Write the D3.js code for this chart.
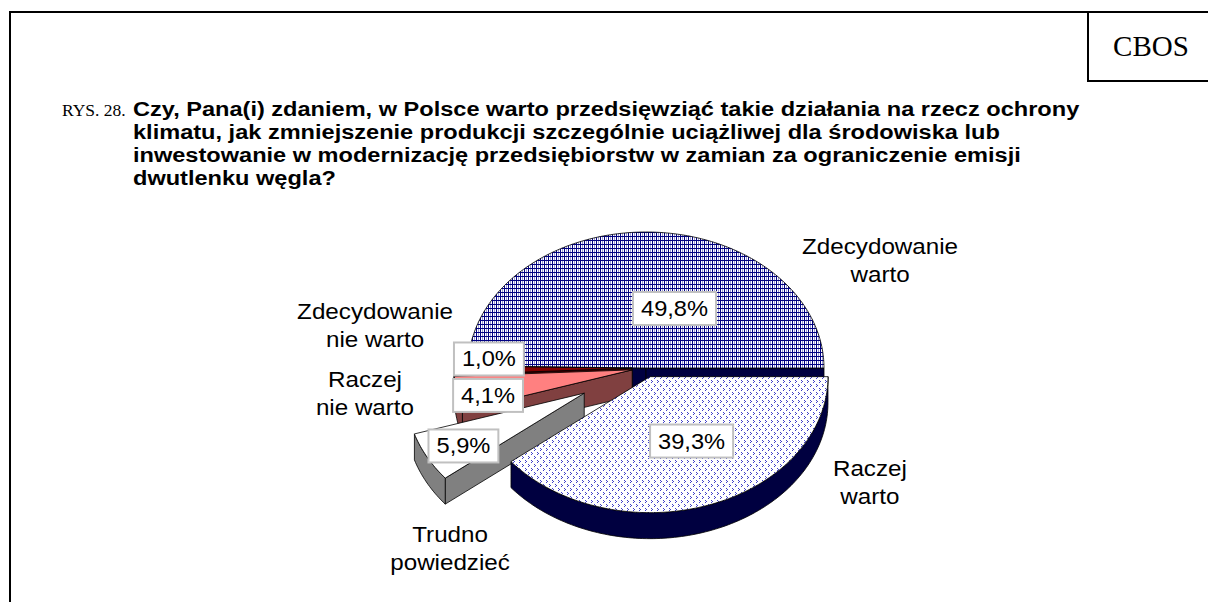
<!DOCTYPE html>
<html>
<head>
<meta charset="utf-8">
<script src="https://cdn.jsdelivr.net/npm/d3@7"></script>
<style>
body { margin: 0; background: #fff; }
svg { display: block; }
</style>
</head>
<body>
<svg width="1208" height="602"></svg>
<script>
// ---- data ----
const categories = ["Zdecydowanie warto", "Raczej warto", "Trudno powiedzieć", "Raczej nie warto", "Zdecydowanie nie warto"];
const categoryLines = [["Zdecydowanie", "warto"], ["Raczej", "warto"], ["Trudno", "powiedzieć"], ["Raczej", "nie warto"], ["Zdecydowanie", "nie warto"]];
const values = [49.8, 39.3, 5.9, 4.1, 1.0];
const valueLabels = ["49,8%", "39,3%", "5,9%", "4,1%", "1,0%"];
const figureNo = "RYS. 28.";
const titleLines = [
    "Czy, Pana(i) zdaniem, w Polsce warto przedsięwziąć takie działania na rzecz ochrony",
    "klimatu, jak zmniejszenie produkcji szczególnie uciążliwej dla środowiska lub",
    "inwestowanie w modernizację przedsiębiorstw w zamian za ograniczenie emisji",
    "dwutlenku węgla?"
];
const sourceName = "CBOS";

// ---- look ----
const topFill = ["url(#hatch)", "url(#dots)", "#ffffff", "#ff8080", "#800000"];
const sideFill = ["#000040", "#000040", "#808080", "#804040", "#400000"];
const explode = [0, 12, 70, 14, 14];
// label anchors: [angle deg, radius in ellipse units] from pie centre
const pctPos = [[-69.9, 0.466], [64.5, 0.595], [150.8, 1.175], [167.2, 0.91], [184.3, 0.885]];
const catPos = [[-32.5, 1.559], [32.3, 1.488], [130.7, 1.688], [174.9, 1.585], [193.3, 1.564]];

let svg = d3.select("svg"),
    width = +svg.attr("width"),
    height = +svg.attr("height");

const sx = 1.1; // source picture is a bit wider than tall
const cx = 646, cy = 368, rx = 178, ry = 136, depth = 26;

// patterns
let defs = svg.append("defs");
let hatch = defs.append("pattern").attr("id", "hatch")
    .attr("patternUnits", "userSpaceOnUse").attr("width", 4).attr("height", 4);
hatch.append("rect").attr("width", 4).attr("height", 4).attr("fill", "#fff");
hatch.append("rect").attr("x", 2).attr("width", 1).attr("height", 4).attr("fill", "#9a9ad6");
hatch.append("rect").attr("x", 0).attr("width", 1).attr("height", 4).attr("fill", "#000080");
hatch.append("rect").attr("y", 0).attr("width", 4).attr("height", 1).attr("fill", "#000080");

let dots = defs.append("pattern").attr("id", "dots")
    .attr("patternUnits", "userSpaceOnUse").attr("width", 6).attr("height", 8);
dots.append("rect").attr("width", 6).attr("height", 8).attr("fill", "#fff");
[[0, 0], [1, 1], [0, 2], [3, 4], [4, 5], [3, 6]].forEach(p => {
    dots.append("rect").attr("x", p[0]).attr("y", p[1]).attr("width", 1).attr("height", 1)
        .attr("fill", "#4040c8");
});

// frame
svg.append("line").attr("x1", 9).attr("y1", 12).attr("x2", width).attr("y2", 12)
    .attr("stroke", "#000").attr("stroke-width", 2);
svg.append("line").attr("x1", 10).attr("y1", 11).attr("x2", 10).attr("y2", height)
    .attr("stroke", "#000").attr("stroke-width", 2);
svg.append("line").attr("x1", 1088).attr("y1", 12).attr("x2", 1088).attr("y2", 82)
    .attr("stroke", "#000").attr("stroke-width", 2);
svg.append("line").attr("x1", 1087).attr("y1", 81).attr("x2", width).attr("y2", 81)
    .attr("stroke", "#000").attr("stroke-width", 2);
svg.append("text").attr("x", 1151).attr("y", 56).attr("text-anchor", "middle")
    .attr("font-family", "Liberation Serif, Times New Roman, serif").attr("font-size", 29)
    .text(sourceName);

// title
svg.append("text").attr("x", 62).attr("y", 116)
    .attr("font-family", "Liberation Serif, Times New Roman, serif").attr("font-size", 17.5)
    .text(figureNo);
let title = svg.append("g").attr("transform", "translate(133,0) scale(1.15,1)");
titleLines.forEach((t, i) => {
    title.append("text").attr("x", 0).attr("y", 116 + i * 23)
        .attr("font-family", "Liberation Sans, Arial, sans-serif").attr("font-size", 20.5)
        .attr("font-weight", "bold").text(t);
});

// pie angles: first slice ends at 3 o'clock
let total = d3.sum(values);
let a0 = Math.PI / 2 - 2 * Math.PI * values[0] / total;
let pie = d3.pie().sort(null).startAngle(a0).endAngle(a0 + 2 * Math.PI);
let arcs = pie(values).map((d, i) => {
    let t0 = d.startAngle - Math.PI / 2, t1 = d.endAngle - Math.PI / 2;
    let m = (t0 + t1) / 2;
    return {
        i: i, t0: t0, t1: t1,
        ox: cx + explode[i] * Math.cos(m),
        oy: cy + explode[i] * Math.sin(m) * ry / rx
    };
});

let line = d3.line();
function arcPts(a, s, e, dy) {
    let n = Math.max(2, Math.ceil(Math.abs(e - s) / 0.02));
    return d3.range(n + 1).map(k => {
        let t = s + (e - s) * k / n;
        return [a.ox + rx * Math.cos(t), a.oy + ry * Math.sin(t) + dy];
    });
}

function drawSlice(g, a) {
    let side = sideFill[a.i];
    // radial faces
    if (Math.cos(a.t0) < 0) {
        let p = [a.ox + rx * Math.cos(a.t0), a.oy + ry * Math.sin(a.t0)];
        g.append("path").attr("d", line([[a.ox, a.oy], p, [p[0], p[1] + depth], [a.ox, a.oy + depth]]) + "Z")
            .attr("fill", side).attr("stroke", "#000").attr("stroke-width", 0.8);
    }
    if (Math.cos(a.t1) > 0) {
        let p = [a.ox + rx * Math.cos(a.t1), a.oy + ry * Math.sin(a.t1)];
        g.append("path").attr("d", line([[a.ox, a.oy], p, [p[0], p[1] + depth], [a.ox, a.oy + depth]]) + "Z")
            .attr("fill", side).attr("stroke", "#000").attr("stroke-width", 0.8);
    }
    // outer wall, front half only
    [-2, 0, 2].forEach(k => {
        let s = Math.max(a.t0, k * Math.PI), e = Math.min(a.t1, (k + 1) * Math.PI);
        if (e > s) {
            let pts = arcPts(a, s, e, 0).concat(arcPts(a, s, e, depth).reverse());
            g.append("path").attr("d", line(pts) + "Z")
                .attr("fill", side).attr("stroke", "#000").attr("stroke-width", 0.8);
        }
    });
    // top face
    let topPts = [[a.ox, a.oy]].concat(arcPts(a, a.t0, a.t1, 0));
    g.append("path").attr("d", line(topPts) + "Z")
        .attr("fill", topFill[a.i]).attr("stroke", "#000").attr("stroke-width", 0.8);
}

let pieG = svg.append("g");
[0, 4, 3, 2, 1].forEach(i => drawSlice(pieG.append("g"), arcs[i]));

function polar(p) {
    let t = p[0] * Math.PI / 180;
    return [cx + p[1] * rx * Math.cos(t), cy + p[1] * ry * Math.sin(t)];
}

// value labels in boxes
let boxes = svg.append("g");
values.forEach((v, i) => {
    let c = polar(pctPos[i]);
    let g = boxes.append("g").attr("transform", "translate(" + c[0] + "," + c[1] + ")");
    let r = g.append("rect").attr("fill", "#fff").attr("stroke", "#c0c0c0").attr("stroke-width", 2);
    let t = g.append("text").attr("text-anchor", "middle").attr("y", 7.5)
        .attr("transform", "scale(" + sx + ",1)")
        .attr("font-family", "Liberation Sans, Arial, sans-serif").attr("font-size", 21.5)
        .attr("fill", "#000").text(valueLabels[i]);
    let w = t.node().getComputedTextLength() * sx + 16;
    r.attr("x", -w / 2).attr("y", -16.5).attr("width", w).attr("height", 33);
});

// category labels
categoryLines.forEach((lines, i) => {
    let c = polar(catPos[i]);
    let g = svg.append("g").attr("transform", "translate(" + c[0] + "," + c[1] + ") scale(" + sx + ",1)");
    lines.forEach((s, j) => {
        g.append("text").attr("text-anchor", "middle").attr("y", j * 27.5)
            .attr("font-family", "Liberation Sans, Arial, sans-serif").attr("font-size", 22)
            .attr("fill", "#000").text(s);
    });
});
</script>
</body>
</html>
